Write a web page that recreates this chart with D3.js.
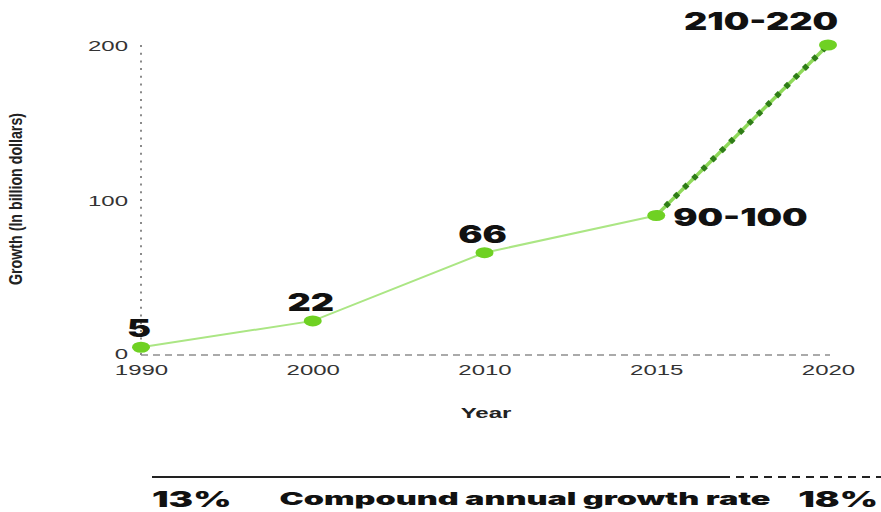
<!DOCTYPE html>
<html>
<head>
<meta charset="utf-8">
<script src="https://cdn.jsdelivr.net/npm/d3@7"></script>
<style>
  html, body { margin: 0; padding: 0; background: #fff; }
  svg { display: block; }
</style>
</head>
<body>
<svg id="chart" width="881" height="512"></svg>
<script>
// Market growth, in billion dollars
const years = ["1990", "2000", "2010", "2015", "2020"];
const growth = [5, 22, 66, 90, 210];            // lower bound of each estimate
const growthLabels = ["5", "22", "66", "90-100", "210-220"];
const yTicks = [0, 100, 200];
const cagrLabels = ["13%", "18%"];
const cagrTitle = "Compound annual growth rate";

const svg = d3.select("#chart");

const displayFont = "Inter, 'Open Sans', sans-serif";
const plainFont = "'Liberation Sans', Arial, sans-serif";

const x = d3.scalePoint().domain(years).range([141, 828]);
const y = d3.scaleLinear().domain([0, 200]).range([355, 45]).clamp(true);

const points = years.map((yr, i) => ({ year: yr, value: growth[i], label: growthLabels[i] }));

// Vertical dotted axis line
svg.append("line")
  .attr("x1", x(years[0])).attr("x2", x(years[0]))
  .attr("y1", y(200)).attr("y2", y(0))
  .attr("stroke", "#8a8a8a").attr("stroke-width", 2)
  .attr("stroke-dasharray", "2,5.7");

// Dashed baseline
svg.append("line")
  .attr("x1", x(years[0])).attr("x2", x(years[years.length - 1]) + 2)
  .attr("y1", y(0)).attr("y2", y(0))
  .attr("stroke", "#8f8f8f").attr("stroke-width", 1.5)
  .attr("stroke-dasharray", "7,5");

// Y axis tick labels
const yAxis = svg.append("g")
  .attr("transform", `translate(${x(years[0])},0)`)
  .call(d3.axisLeft(y).tickValues(yTicks).tickSize(0).tickFormat(d3.format("d")));
yAxis.select(".domain").remove();
yAxis.selectAll("text")
  .attr("x", 0).attr("dy", d => d === 0 ? "0.2em" : "0.35em")
  .attr("transform", "translate(-13,0) scale(1.6,1)")
  .attr("font-family", plainFont).attr("font-size", 15)
  .attr("fill", "#333").attr("text-anchor", "end");

// X axis tick labels
const xAxis = svg.append("g")
  .attr("transform", `translate(0,${y(0)})`)
  .call(d3.axisBottom(x).tickSize(0));
xAxis.select(".domain").remove();
xAxis.selectAll("text")
  .attr("y", 0).attr("dy", 0)
  .attr("transform", "translate(0,20) scale(1.6,1)")
  .attr("font-family", plainFont).attr("font-size", 15)
  .attr("fill", "#333").attr("text-anchor", "middle");

// Axis titles
svg.append("text")
  .attr("transform", `translate(486,418) scale(1.6,1)`)
  .attr("text-anchor", "middle")
  .attr("font-family", plainFont).attr("font-weight", "bold").attr("font-size", 15)
  .attr("fill", "#222")
  .text("Year");

svg.append("text")
  .attr("transform", "translate(22,199) rotate(-90) scale(1,1.4)")
  .attr("text-anchor", "middle")
  .attr("font-family", plainFont).attr("font-weight", "bold").attr("font-size", 13)
  .attr("textLength", 172).attr("lengthAdjust", "spacingAndGlyphs")
  .attr("fill", "#222")
  .text("Growth (In billion dollars)");

// Historic line (solid) and projection (dotted)
const line = d3.line().x(d => x(d.year)).y(d => y(d.value));
const history = points.slice(0, 4);
const projection = points.slice(3);

svg.append("path").datum(history)
  .attr("d", line).attr("fill", "none")
  .attr("stroke", "#abe684").attr("stroke-width", 2);

svg.append("path").datum(projection)
  .attr("d", line).attr("fill", "none")
  .attr("stroke", "#8fd95a").attr("stroke-width", 3.5);
svg.append("path").datum(projection)
  .attr("d", line).attr("fill", "none")
  .attr("stroke", "#2f7d17").attr("stroke-width", 5.5)
  .attr("stroke-dasharray", "5,8");

// Markers
svg.selectAll("ellipse.pt").data(points).join("ellipse")
  .attr("class", "pt")
  .attr("cx", d => x(d.year)).attr("cy", d => y(d.value))
  .attr("rx", 9).attr("ry", 5.5)
  .attr("fill", "#6fd123");

// Value labels
const labelPos = (d, i) => {
  if (i === 3) return { dx: 17, dy: 10, anchor: "start" };
  if (i === 4) return { dx: 10, dy: -15, anchor: "end" };
  return { dx: -2, dy: -10, anchor: "middle" };
};
svg.selectAll("text.val").data(points).join("text")
  .attr("class", "val")
  .attr("transform", (d, i) => {
    const p = labelPos(d, i);
    return `translate(${x(d.year) + p.dx},${y(d.value) + p.dy}) scale(1.5,1)`;
  })
  .attr("text-anchor", (d, i) => labelPos(d, i).anchor)
  .attr("font-family", displayFont).attr("font-weight", 900).attr("font-size", 24)
  .attr("fill", "#111")
  .text(d => d.label);

// Compound annual growth rate band
svg.append("line")
  .attr("x1", 152).attr("x2", 730).attr("y1", 477).attr("y2", 477)
  .attr("stroke", "#222").attr("stroke-width", 2);
svg.append("line")
  .attr("x1", 736).attr("x2", 881).attr("y1", 477).attr("y2", 477)
  .attr("stroke", "#222").attr("stroke-width", 2)
  .attr("stroke-dasharray", "8,6");

svg.append("text")
  .attr("transform", "translate(152,507) scale(1.75,1)")
  .attr("font-family", displayFont).attr("font-weight", 900).attr("font-size", 21)
  .attr("fill", "#111")
  .text(cagrLabels[0]);
svg.append("text")
  .attr("transform", "translate(878,507) scale(1.75,1)")
  .attr("text-anchor", "end")
  .attr("font-family", displayFont).attr("font-weight", 900).attr("font-size", 21)
  .attr("fill", "#111")
  .text(cagrLabels[1]);
svg.append("text")
  .attr("transform", "translate(525,505) scale(1.8,1)")
  .attr("text-anchor", "middle")
  .attr("font-family", displayFont).attr("font-weight", 900).attr("font-size", 18)
  .attr("fill", "#111")
  .text(cagrTitle);
</script>
</body>
</html>
